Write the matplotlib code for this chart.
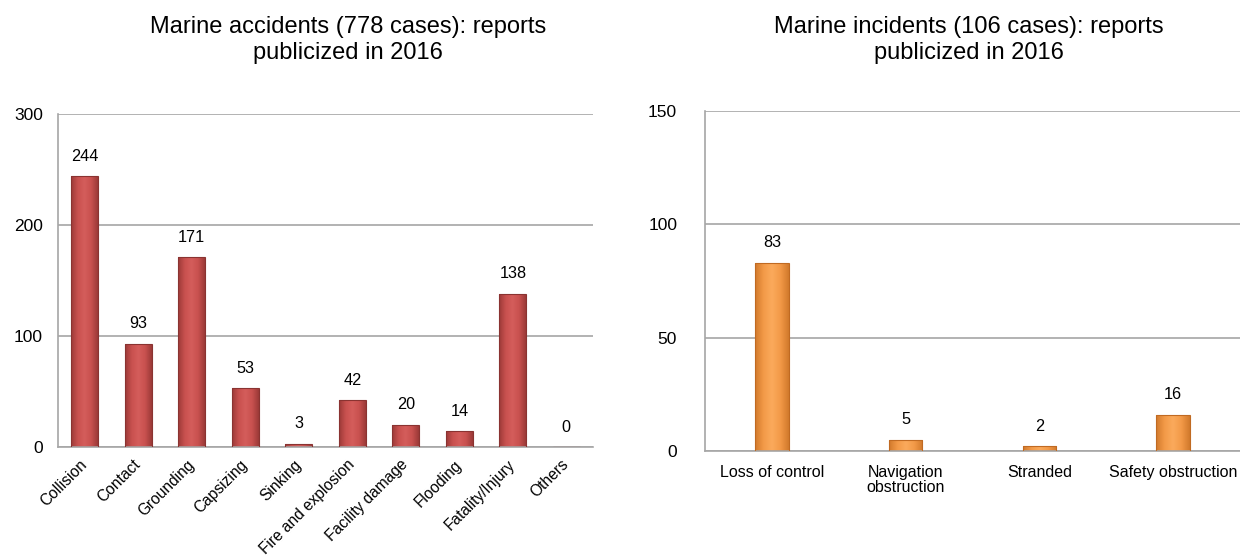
import matplotlib.pyplot as plt
import numpy as np
from matplotlib.colors import LinearSegmentedColormap

plt.rcParams['font.family'] = ['Liberation Sans', 'DejaVu Sans']

# accidents by type
acc_types = ['Collision', 'Contact', 'Grounding', 'Capsizing', 'Sinking',
             'Fire and explosion', 'Facility damage', 'Flooding',
             'Fatality/Injury', 'Others']
acc_counts = [244, 93, 171, 53, 3, 42, 20, 14, 138, 0]

# incidents by type
inc_types = ['Loss of control', 'Navigation\nobstruction', 'Stranded',
             'Safety obstruction']
inc_counts = [83, 5, 2, 16]

acc_title = 'Marine accidents (778 cases): reports\npublicized in 2016'
inc_title = 'Marine incidents (106 cases): reports\npublicized in 2016'

red_cmap = LinearSegmentedColormap.from_list(
    'red_bevel', ['#9c3a38', '#c9514f', '#d45d5b', '#c9514f', '#9c3a38'])
orange_cmap = LinearSegmentedColormap.from_list(
    'orange_bevel', ['#d27a2c', '#f39a48', '#fbaa5c', '#f39a48', '#d27a2c'])

grid_clr = '#a6a6a6'


def shaded_bars(ax, values, width, cmap, edge):
    x = np.arange(len(values))
    bars = ax.bar(x, values, width=width, color='none', edgecolor=edge,
                  linewidth=0.8, zorder=3)
    grad = np.linspace(0, 1, 64).reshape(1, -1)
    for b in bars:
        h = b.get_height()
        if h <= 0:
            continue
        x0 = b.get_x()
        im = ax.imshow(grad, extent=[x0, x0 + b.get_width(), 0, h],
                       aspect='auto', cmap=cmap, zorder=2.5,
                       interpolation='bicubic')
        im.set_clip_path(b)
    return x


def style_axes(ax, ymax, step, n, ypad):
    ax.set_xlim(-0.5, n - 0.5)
    ax.set_ylim(0, ymax)
    ax.set_yticks(np.arange(0, ymax + 1, step))
    ax.yaxis.grid(True, color=grid_clr, linewidth=1.2, zorder=0)
    ax.set_axisbelow(True)
    for side in ['top', 'right']:
        ax.spines[side].set_visible(False)
    for side in ['left', 'bottom']:
        ax.spines[side].set_color(grid_clr)
        ax.spines[side].set_linewidth(1.2)
    ax.tick_params(axis='both', length=0, colors='black')
    ax.tick_params(axis='y', labelsize=12.5, pad=ypad)


fig = plt.figure(figsize=(12.4, 5.56), dpi=100)

ax1 = fig.add_axes([0.0468, 0.196, 0.4315, 0.599])
x1 = shaded_bars(ax1, acc_counts, 0.5, red_cmap, '#8a3331')
style_axes(ax1, 300, 100, len(acc_counts), 11)
ax1.set_xticks(x1)
ax1.set_xticklabels(acc_types, rotation=45, ha='right', va='center',
                    rotation_mode='anchor', fontsize=11.2)
ax1.tick_params(axis='x', pad=11)
for xi, v in zip(x1, acc_counts):
    ax1.annotate(str(v), (xi, v), xytext=(0, 9), textcoords='offset points',
                 ha='center', va='bottom', fontsize=11.7)
fig.text(0.2805, 0.972, acc_title, ha='center', va='top', fontsize=17,
         linespacing=1.25)

ax2 = fig.add_axes([0.5685, 0.189, 0.4315, 0.611])
x2 = shaded_bars(ax2, inc_counts, 0.25, orange_cmap, '#c06a22')
style_axes(ax2, 150, 50, len(inc_counts), 20)
ax2.set_xticks(x2)
ax2.set_xticklabels(inc_types, fontsize=11.5, linespacing=1.05)
ax2.tick_params(axis='x', pad=10)
for xi, v in zip(x2, inc_counts):
    ax2.annotate(str(v), (xi, v), xytext=(0, 9), textcoords='offset points',
                 ha='center', va='bottom', fontsize=11.7)
fig.text(0.781, 0.972, inc_title, ha='center', va='top', fontsize=17,
         linespacing=1.25)

fig.savefig('out.png', dpi=100)
print('Done')
